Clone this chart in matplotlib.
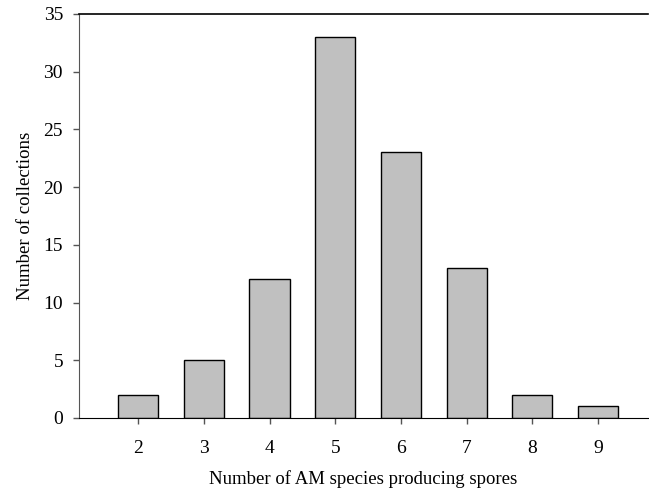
import matplotlib
matplotlib.use("Agg")
import matplotlib.pyplot as plt

species = [2, 3, 4, 5, 6, 7, 8, 9]
collections = [2, 5, 12, 33, 23, 13, 2, 1]
yticks = [0, 5, 10, 15, 20, 25, 30, 35]

plt.rcParams["font.family"] = ["Liberation Serif", "DejaVu Serif"]

fig = plt.figure(figsize=(6.49, 4.97), dpi=100)
ax = fig.add_axes([0.1217, 0.159, 0.8767, 0.8129])

ax.bar(species, collections, width=0.61, color="#c0c0c0",
       edgecolor="black", linewidth=1.0, zorder=2)

ax.set_xlim(1.10, 9.76)
ax.set_ylim(0, 35)
ax.set_xticks(species)
ax.set_yticks(yticks)

ax.spines["right"].set_visible(False)
ax.spines["left"].set_color("#555555")
ax.spines["top"].set_linewidth(1.2)
ax.tick_params(axis="both", direction="out", length=4.5, width=1,
               color="#555555", labelsize=14)
ax.tick_params(axis="x", pad=11)
ax.tick_params(axis="y", pad=7)

ax.set_xlabel("Number of AM species producing spores", fontsize=13.5, labelpad=10)
ax.set_ylabel("Number of collections", fontsize=13.5, labelpad=7)

fig.savefig("out.png", dpi=100)
